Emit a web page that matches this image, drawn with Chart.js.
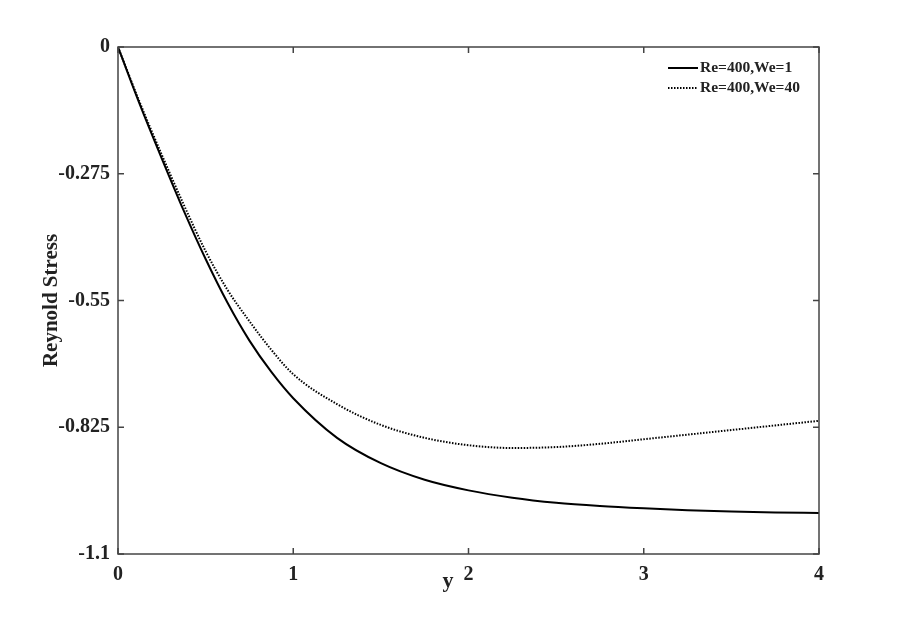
<!DOCTYPE html>
<html>
<head>
<meta charset="utf-8">
<script src="https://cdn.jsdelivr.net/npm/chart.js@4.4.1/dist/chart.umd.min.js"></script>
<style>
  html, body { margin: 0; padding: 0; background: #fff; }
  #wrap { width: 904px; height: 623px; }
</style>
</head>
<body>
<div id="wrap"><canvas id="stressChart" width="904" height="623"></canvas></div>
<script>
// values
const yPos = [0, 0.125, 0.25, 0.375, 0.5, 0.625, 0.75, 0.875, 1.0, 1.25, 1.5, 1.75, 2.0, 2.25, 2.5, 2.75, 3.0, 3.25, 3.5, 3.75, 4.0];
const stressWe1 = [0, -0.125, -0.242, -0.355, -0.46, -0.555, -0.637, -0.705, -0.762, -0.848, -0.903, -0.939, -0.962, -0.978, -0.989, -0.996, -1.001, -1.005, -1.008, -1.010, -1.011];
const stressWe40 = [0, -0.121, -0.234, -0.342, -0.443, -0.527, -0.595, -0.657, -0.71, -0.775, -0.82, -0.848, -0.864, -0.870, -0.868, -0.861, -0.851, -0.841, -0.831, -0.821, -0.811];
const xTicks = [0, 1, 2, 3, 4];
const yTicks = [0, -0.275, -0.55, -0.825, -1.1];
const seriesNames = ['Re=400,We=1', 'Re=400,We=40'];

const serif = "'Liberation Serif', 'Times New Roman', serif";
const axisColor = '#444';

const toPoints = (xs, ys) => xs.map((x, i) => ({ x: x, y: ys[i] }));

// frame, inward ticks, axis titles and legend
const framePlugin = {
  id: 'frame',
  afterDraw(chart) {
    const { ctx, chartArea: a, scales } = chart;
    ctx.save();
    ctx.strokeStyle = axisColor;
    ctx.lineWidth = 1.5;
    ctx.strokeRect(a.left, a.top, a.right - a.left, a.bottom - a.top);
    const len = 6;
    ctx.beginPath();
    xTicks.forEach(v => {
      const px = scales.x.getPixelForValue(v);
      ctx.moveTo(px, a.bottom); ctx.lineTo(px, a.bottom - len);
      ctx.moveTo(px, a.top); ctx.lineTo(px, a.top + len);
    });
    yTicks.forEach(v => {
      const py = scales.y.getPixelForValue(v);
      ctx.moveTo(a.left, py); ctx.lineTo(a.left + len, py);
      ctx.moveTo(a.right, py); ctx.lineTo(a.right - len, py);
    });
    ctx.stroke();

    // axis titles
    ctx.fillStyle = '#222';
    ctx.font = 'bold 22px ' + serif;
    ctx.textAlign = 'center';
    ctx.textBaseline = 'alphabetic';
    ctx.fillText('y', 448, 587);
    ctx.save();
    ctx.translate(57, (a.top + a.bottom) / 2);
    ctx.rotate(-Math.PI / 2);
    ctx.font = 'bold 21px ' + serif;
    ctx.fillText('Reynold Stress', 0, 0);
    ctx.restore();

    // legend
    ctx.font = 'bold 15.5px ' + serif;
    ctx.textAlign = 'left';
    ctx.textBaseline = 'middle';
    chart.data.datasets.forEach((ds, i) => {
      const ly = 68 + i * 20;
      ctx.save();
      ctx.strokeStyle = ds.borderColor;
      ctx.lineWidth = ds.borderWidth;
      ctx.setLineDash(ds.borderDash || []);
      ctx.beginPath();
      ctx.moveTo(668, ly); ctx.lineTo(698, ly);
      ctx.stroke();
      ctx.restore();
      ctx.fillText(ds.label, 700, ly);
    });
    ctx.restore();
  }
};

new Chart(document.getElementById('stressChart'), {
  type: 'line',
  data: {
    datasets: [
      {
        label: seriesNames[0],
        data: toPoints(yPos, stressWe1),
        borderColor: '#000',
        borderWidth: 2,
        pointRadius: 0,
        cubicInterpolationMode: 'monotone',
        fill: false,
      },
      {
        label: seriesNames[1],
        data: toPoints(yPos, stressWe40),
        borderColor: '#000',
        borderWidth: 2,
        borderDash: [1.5, 1.5],
        pointRadius: 0,
        cubicInterpolationMode: 'monotone',
        fill: false,
      },
    ],
  },
  options: {
    responsive: false,
    animation: false,
    devicePixelRatio: 1,
    layout: { padding: { top: 47, right: 85, left: 0, bottom: 0 } },
    plugins: {
      legend: { display: false },
      tooltip: { enabled: false },
    },
    scales: {
      x: {
        type: 'linear',
        min: 0,
        max: 4,
        afterBuildTicks: s => { s.ticks = xTicks.map(v => ({ value: v })); },
        afterFit: s => { s.height = 69; },
        grid: { display: false },
        border: { display: false },
        ticks: {
          padding: 1,
          color: '#222',
          font: { family: serif, size: 20, weight: 'bold' },
          callback: v => String(v),
        },
      },
      y: {
        type: 'linear',
        min: -1.1,
        max: 0,
        afterBuildTicks: s => { s.ticks = yTicks.map(v => ({ value: v })); },
        afterFit: s => { s.width = 118; },
        grid: { display: false },
        border: { display: false },
        ticks: {
          padding: 0,
          color: '#222',
          font: { family: serif, size: 20, weight: 'bold' },
          callback: v => String(v),
        },
      },
    },
  },
  plugins: [framePlugin],
});
</script>
</body>
</html>
